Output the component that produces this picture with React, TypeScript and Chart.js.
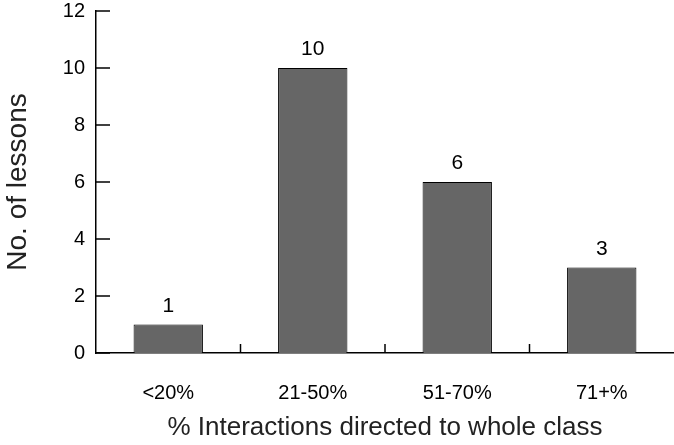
import React, { useEffect, useRef } from "react";
import { Chart, registerables } from "chart.js";

Chart.register(...registerables);

const categories = ["<20%", "21-50%", "51-70%", "71+%"];
const lessons = [1, 10, 6, 3];
const yTicks = [0, 2, 4, 6, 8, 10, 12];
const xTitle = "% Interactions directed to whole class";
const yTitle = "No. of lessons";

const FONT = "'Liberation Sans', Arial, sans-serif";

const innerTicks = {
  id: "innerTicks",
  afterDraw(chart: any) {
    const ctx = chart.ctx;
    const x = chart.scales.x;
    const y = chart.scales.y;
    const area = chart.chartArea;
    ctx.save();
    ctx.strokeStyle = "#000";
    ctx.lineWidth = 1.5;
    yTicks.forEach((v) => {
      const py = y.getPixelForValue(v);
      ctx.beginPath();
      ctx.moveTo(area.left, py);
      ctx.lineTo(area.left + 14, py);
      ctx.stroke();
    });
    for (let i = 1; i < categories.length; i++) {
      const px = (x.getPixelForValue(i - 1) + x.getPixelForValue(i)) / 2;
      ctx.beginPath();
      ctx.moveTo(px, area.bottom);
      ctx.lineTo(px, area.bottom - 9);
      ctx.stroke();
    }
    ctx.fillStyle = "#000";
    ctx.font = `21px ${FONT}`;
    ctx.textAlign = "center";
    ctx.textBaseline = "alphabetic";
    const meta = chart.getDatasetMeta(0);
    meta.data.forEach((bar: any, i: number) => {
      ctx.fillText(String(lessons[i]), bar.x, bar.y - 13);
    });
    ctx.restore();
  },
};

export default function App() {
  const ref = useRef<HTMLCanvasElement>(null);
  useEffect(() => {
    const chart = new Chart(ref.current as HTMLCanvasElement, {
      type: "bar",
      data: {
        labels: categories,
        datasets: [
          {
            data: lessons,
            backgroundColor: "#666666",
            borderColor: "#000000",
            borderWidth: 1,
            categoryPercentage: 1,
            barPercentage: 0.48,
          },
        ],
      },
      options: {
        animation: false,
        responsive: false,
        maintainAspectRatio: false,
        layout: { padding: { top: 0, right: -3, left: 0, bottom: 0 } },
        plugins: { legend: { display: false }, tooltip: { enabled: false } },
        scales: {
          x: {
            offset: true,
            grid: { display: false, drawTicks: false, offset: true },
            border: { display: true, color: "#000", width: 1.5 },
            ticks: { color: "#000", font: { size: 20, family: FONT }, padding: 28, maxRotation: 0 },
            title: {
              display: true,
              text: xTitle,
              color: "#222",
              font: { size: 26, family: FONT },
              padding: { top: 0, bottom: 2 },
            },
            afterFit(scale: any) {
              scale.height = 92;
              scale.paddingLeft = 0;
              scale.paddingRight = 0;
            },
          },
          y: {
            min: 0,
            max: 12,
            ticks: {
              stepSize: 2,
              color: "#000",
              font: { size: 20, family: FONT },
              padding: 11,
            },
            grid: { display: false, drawTicks: false },
            border: { display: true, color: "#000", width: 1.5 },
            title: {
              display: true,
              text: yTitle,
              color: "#222",
              font: { size: 28, family: FONT },
              padding: { top: 1, bottom: 1 },
            },
            afterFit(scale: any) {
              scale.width = 96;
              scale.paddingTop = 11;
              scale.paddingBottom = 0;
            },
          },
        },
      },
      plugins: [innerTicks],
    });
    return () => chart.destroy();
  }, []);
  return (
    <div style={{ position: "fixed", left: 0, top: 0, width: 674, height: 445, background: "#fff" }}>
      <canvas ref={ref} width={674} height={445} style={{ width: 674, height: 445 }} />
    </div>
  );
}
